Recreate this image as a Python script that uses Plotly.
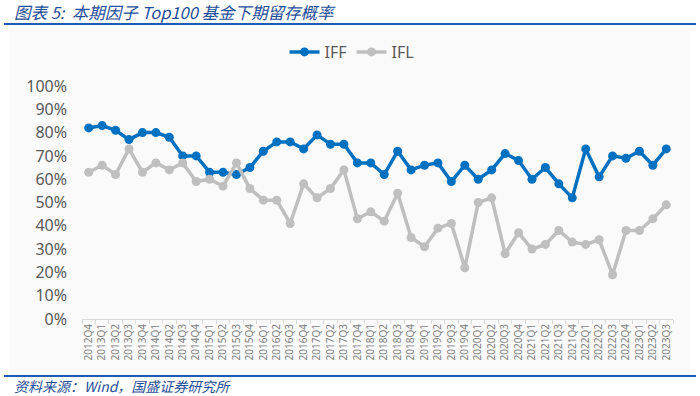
import plotly.graph_objects as go

quarters = ["2012Q4",
            "2013Q1", "2013Q2", "2013Q3", "2013Q4",
            "2014Q1", "2014Q2", "2014Q3", "2014Q4",
            "2015Q1", "2015Q2", "2015Q3", "2015Q4",
            "2016Q1", "2016Q2", "2016Q3", "2016Q4",
            "2017Q1", "2017Q2", "2017Q3", "2017Q4",
            "2018Q1", "2018Q2", "2018Q3", "2018Q4",
            "2019Q1", "2019Q2", "2019Q3", "2019Q4",
            "2020Q1", "2020Q2", "2020Q3", "2020Q4",
            "2021Q1", "2021Q2", "2021Q3", "2021Q4",
            "2022Q1", "2022Q2", "2022Q3", "2022Q4",
            "2023Q1", "2023Q2", "2023Q3"]

iff = [82, 83, 81, 77, 80, 80, 78, 70, 70, 63, 63, 62, 65, 72, 76, 76, 73, 79, 75, 75,
       67, 67, 62, 72, 64, 66, 67, 59, 66, 60, 64, 71, 68, 60, 65, 58, 52, 73, 61, 70,
       69, 72, 66, 73]
ifl = [63, 66, 62, 73, 63, 67, 64, 67, 59, 60, 57, 67, 56, 51, 51, 41, 58, 52, 56, 64,
       43, 46, 42, 54, 35, 31, 39, 41, 22, 50, 52, 28, 37, 30, 32, 38, 33, 32, 34, 19,
       38, 38, 43, 49]

y_ticks = [0, 10, 20, 30, 40, 50, 60, 70, 80, 90, 100]
y_labels = [f"{v}%" for v in y_ticks]

title_text = "图表 5:  本期因子 Top100 基金下期留存概率"
source_text = "资料来源：Wind，国盛证券研究所"

BLUE = "#0070C0"
GRAY = "#BFBFBF"
TXT_BLUE = "#1F4E9A"
W, H = 700, 396
L, R, T, B = 82, 27, 86, 77
PW, PH = W - L - R, H - T - B


def px(x):
    return (x - L) / PW


def py(y):
    return (H - B - y) / PH


fig = go.Figure()
fig.add_trace(go.Scatter(x=quarters, y=iff, name="IFF", mode="lines+markers",
                         line=dict(color=BLUE, width=3.5),
                         marker=dict(color=BLUE, size=9)))
fig.add_trace(go.Scatter(x=quarters, y=ifl, name="IFL", mode="lines+markers",
                         line=dict(color=GRAY, width=3.5),
                         marker=dict(color=GRAY, size=9)))

fig.update_layout(
    width=W, height=H,
    margin=dict(l=L, r=R, t=T, b=B),
    paper_bgcolor="white",
    plot_bgcolor="rgba(0,0,0,0)",
    showlegend=True,
    legend=dict(orientation="h", x=px(352), xanchor="center", y=py(52), yanchor="middle",
                font=dict(family="Noto Sans, Liberation Sans, sans-serif", size=16, color="#595959"),
                bgcolor="rgba(0,0,0,0)", itemwidth=30, tracegroupgap=0),
    font=dict(family="Noto Sans, Liberation Sans, sans-serif", color="#595959"),
    shapes=[
        dict(type="rect", xref="paper", yref="paper", x0=px(10), x1=px(690),
             y0=py(375), y1=py(28), fillcolor="#FAFAFA", line=dict(width=0), layer="below"),
        dict(type="line", xref="paper", yref="paper", x0=px(4), x1=px(696),
             y0=py(24), y1=py(24), line=dict(color="#1F5BB5", width=2)),
        dict(type="line", xref="paper", yref="paper", x0=px(4), x1=px(696),
             y0=py(376), y1=py(376), line=dict(color="#1F5BB5", width=2)),
    ],
    annotations=[
        dict(text="<i>" + title_text + "</i>", xref="paper", yref="paper", x=px(12), y=py(12),
             xanchor="left", yanchor="middle", showarrow=False,
             font=dict(family="Noto Sans CJK SC, DejaVu Sans, sans-serif", size=16.5, color=TXT_BLUE)),
        dict(text="<i>" + source_text + "</i>", xref="paper", yref="paper", x=px(12), y=py(386),
             xanchor="left", yanchor="middle", showarrow=False,
             font=dict(family="Noto Sans CJK SC, DejaVu Sans, sans-serif", size=14, color=TXT_BLUE)),
    ],
)

fig.update_xaxes(type="category", tickangle=-90, tickson="boundaries", ticks="outside",
                 ticklen=4, tickcolor="#D9D9D9", showline=True, linecolor="#D9D9D9", linewidth=1,
                 showgrid=False, automargin=False,
                 tickfont=dict(size=10, color="#7F7F7F",
                               family="Noto Sans, Liberation Sans, sans-serif"),
                 range=[-0.5, len(quarters) - 0.5])
fig.update_yaxes(range=[0, 100], tickvals=y_ticks, ticktext=y_labels, showgrid=False,
                 zeroline=False, showline=False, automargin=False, ticklabelstandoff=14,
                 tickfont=dict(size=16, color="#595959", family="Noto Sans, Liberation Sans, sans-serif"))

fig.write_html("out.html", config={"displayModeBar": False},
               post_script="document.body.style.margin='0';document.body.style.padding='0';")
